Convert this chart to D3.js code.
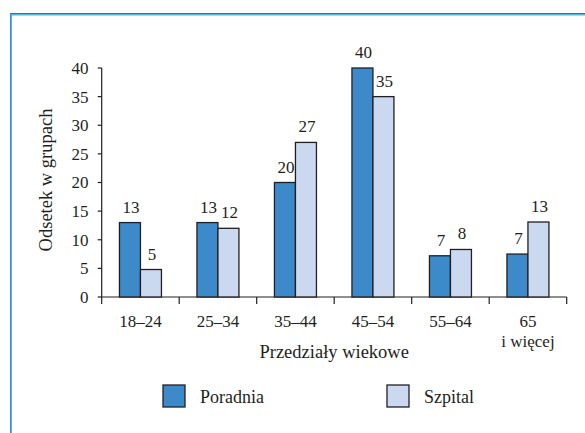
<!DOCTYPE html>
<html><head><meta charset="utf-8">
<script src="https://cdn.jsdelivr.net/npm/d3@7"></script>
<style>body{margin:0;background:#fff}svg{display:block}</style>
</head><body>
<script>
const categories = ["18–24","25–34","35–44","45–54","55–64","65\ni więcej"];
const seriesNames = ["Poradnia","Szpital"];
const poradnia = [13, 13, 20, 40, 7.2, 7.5];
const szpital = [4.8, 12, 27, 35, 8.3, 13.1];
const poradniaLabels = ["13","13","20","40","7","7"];
const szpitalLabels = ["5","12","27","35","8","13"];
const yTicks = [0,5,10,15,20,25,30,35,40];

const FONT="'Liberation Serif', 'Times New Roman', Tinos, 'DejaVu Serif', serif";
const W=585,H=433;
const svg=d3.select("body").append("svg").attr("width",W).attr("height",H)
  .attr("font-family",FONT).attr("fill","#231f20");
// frame
svg.append("path").attr("d","M11,433V14.5H585").attr("fill","none").attr("stroke","#5cb0e2").attr("stroke-width",2);
svg.append("line").attr("x1",10).attr("x2",585).attr("y1",13.5).attr("y2",13.5).attr("stroke","#2a73ae").attr("stroke-width",1);
svg.append("line").attr("x1",10.5).attr("x2",10.5).attr("y1",13).attr("y2",433).attr("stroke","#3d8fcc").attr("stroke-width",1);

const x0=101.7,x1=566.7,yb=297,yt=68;
const x=d3.scaleBand().domain(categories).range([x0,x1]);
const y=d3.scaleLinear().domain([0,40]).range([yb,yt]);
const inner=d3.scaleBand().domain(seriesNames).range([0,42]);
const colors={"Poradnia":"#3d8acb","Szpital":"#cad9ef"};

function txt(fs){return svg.append("text").attr("font-family",FONT).attr("font-size",fs||17).attr("fill","#231f20");}

// axes
const ax=svg.append("g").attr("stroke","#231f20").attr("stroke-width",1.2);
ax.append("line").attr("x1",x0).attr("x2",x0).attr("y1",y(40)).attr("y2",yb+7);
ax.append("line").attr("x1",x0).attr("x2",x1).attr("y1",yb).attr("y2",yb);
yTicks.forEach(t=>{
  ax.append("line").attr("x1",x0-4).attr("x2",x0).attr("y1",y(t)).attr("y2",y(t));
  txt().attr("x",88.5).attr("y",y(t)).attr("dy","0.35em").attr("text-anchor","end").text(t);
});
categories.forEach((c,i)=>{
  const xe=x(c)+x.bandwidth();
  ax.append("line").attr("x1",xe).attr("x2",xe).attr("y1",yb).attr("y2",yb+7);
  const lines=c.split("\n");
  const t=txt().attr("text-anchor","middle");
  lines.forEach((l,j)=>t.append("tspan").attr("x",x(c)+x.bandwidth()/2).attr("y",327+j*20).text(l));
});

// bars
const data=[poradnia,szpital];
const labs=[poradniaLabels,szpitalLabels];
seriesNames.forEach((s,si)=>{
  categories.forEach((c,i)=>{
    const bx=x(c)+x.bandwidth()/2-21+inner(s);
    const v=data[si][i];
    svg.append("rect").attr("x",bx).attr("y",y(v)).attr("width",inner.bandwidth()).attr("height",yb-y(v))
      .attr("fill",colors[s]).attr("stroke","#231f20").attr("stroke-width",1.3);
    txt().attr("x",bx+inner.bandwidth()/2+1).attr("y",y(v)-10).attr("text-anchor","middle").text(labs[si][i]);
  });
});

// titles
txt(18.5).attr("x",(x0+x1)/2).attr("y",358).attr("text-anchor","middle").text("Przedziały wiekowe");
txt(18.5).attr("transform","translate(52,180) rotate(-90)").attr("text-anchor","middle").text("Odsetek w grupach");

// legend
const lg=[{n:"Poradnia",x:163,tx:200},{n:"Szpital",x:387,tx:424}];
lg.forEach(d=>{
  svg.append("rect").attr("x",d.x).attr("y",385).attr("width",22).attr("height",22).attr("fill",colors[d.n]).attr("stroke","#231f20").attr("stroke-width",1.3);
  txt(18).attr("x",d.tx).attr("y",402.5).text(d.n);
});
</script>
</body></html>
